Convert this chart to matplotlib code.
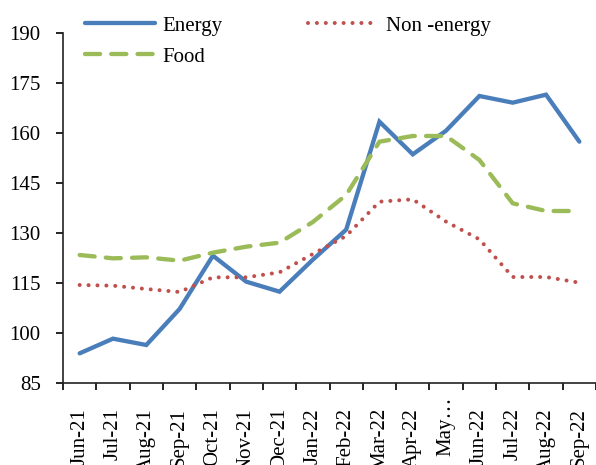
import matplotlib
matplotlib.use("Agg")
import matplotlib.pyplot as plt
import matplotlib.transforms as mtransforms
import numpy as np

months = ["Jun-21", "Jul-21", "Aug-21", "Sep-21", "Oct-21", "Nov-21", "Dec-21",
          "Jan-22", "Feb-22", "Mar-22", "Apr-22", "May…", "Jun-22", "Jul-22",
          "Aug-22", "Sep-22"]
energy = [93.9, 98.3, 96.4, 107.2, 123.2, 115.4, 112.4, 122.0, 131.0, 163.4,
          153.6, 160.7, 171.1, 169.1, 171.5, 157.4]
food = [123.4, 122.4, 122.7, 121.7, 124.1, 125.9, 127.1, 133.3, 141.4, 157.4,
        159.1, 159.1, 151.9, 138.9, 136.6, 136.6]
non_energy = [114.4, 114.2, 113.2, 112.3, 116.7, 116.7, 118.2, 123.7, 129.1,
              139.4, 140.1, 133.4, 128.1, 116.8, 116.8, 115.1]
yticks = [85, 100, 115, 130, 145, 160, 175, 190]

plt.rcParams["font.family"] = ["Liberation Serif", "DejaVu Serif"]
FS = 15

fig = plt.figure(figsize=(5.96, 4.65), dpi=100)
ax = fig.add_axes([63 / 596, 1 - 383 / 465, 1 - 63 / 596, (383 - 33) / 465])

x = np.arange(len(months))
l1, = ax.plot(x, energy, color="#4A7EBB", lw=3.1, solid_capstyle="round",
              solid_joinstyle="miter", label="Energy")
l2, = ax.plot(x, food, color="#9BBB59", lw=3.1, linestyle=(0, (3.5, 2.6)),
              dash_capstyle="round", label="Food")
l3, = ax.plot(x, non_energy, color="#C0504D", lw=2.9, linestyle=(0, (0.01, 2.2)),
              dash_capstyle="round", label="Non -energy")

ax.set_ylim(85, 190)
ax.set_yticks(yticks)
ax.set_yticklabels([str(v) for v in yticks], fontsize=FS)
ax.set_xlim(-0.5, -0.5 + 533 / 33.5)

# category labels; the truncated "May…" sits a little higher than the rest
ax.set_xticks(x)
ax.set_xticklabels([m if m != "May…" else "" for m in months],
                   rotation=90, fontsize=FS)
may_i = months.index("May…")
shift = mtransforms.ScaledTranslation(0, -10 / 72, fig.dpi_scale_trans)
ax.text(may_i, 0, "May…", rotation=90, fontsize=FS, ha="center", va="top",
        transform=ax.get_xaxis_transform() + shift)

ax.set_xticks(np.arange(-0.5, len(months), 1.0), minor=True)
ax.tick_params(axis="x", which="major", length=0, pad=18)
ax.tick_params(axis="x", which="minor", length=5, width=1.2, direction="out")
ax.tick_params(axis="y", length=5, width=1.2, direction="out", pad=11)

for s in ["top", "right"]:
    ax.spines[s].set_visible(False)
for s in ["left", "bottom"]:
    ax.spines[s].set_linewidth(1.2)
    ax.spines[s].set_color("#222222")

fig.legend(handles=[l1, l2, l3], ncol=2, frameon=False, fontsize=FS,
           loc="upper left", bbox_to_anchor=(85 / 596, 1 - 16 / 465),
           borderpad=0, borderaxespad=0, handlelength=3.35,
           columnspacing=4.1, labelspacing=0.55, handletextpad=0.38)

fig.savefig("out.png", dpi=100)
